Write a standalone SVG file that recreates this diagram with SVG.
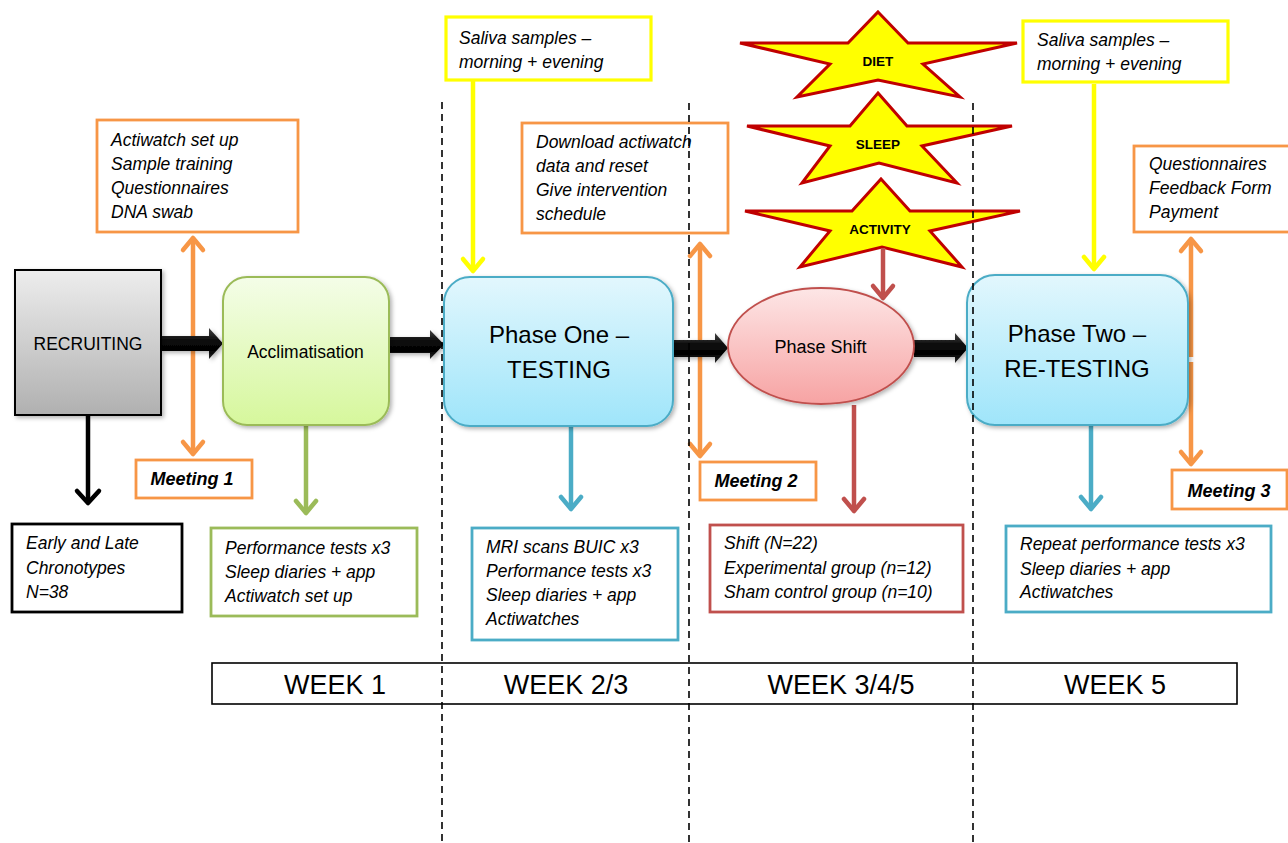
<svg xmlns="http://www.w3.org/2000/svg" width="1288" height="843" viewBox="0 0 1288 843">
<style>
.t{font-family:"Liberation Sans",Arial,sans-serif;font-size:17.5px;font-style:italic;fill:#000}
.m{font-family:"Liberation Sans",Arial,sans-serif;font-size:18px;font-style:italic;font-weight:bold;fill:#000;text-anchor:middle}
.c{font-family:"Liberation Sans",Arial,sans-serif;fill:#000;text-anchor:middle}
.s{font-family:"Liberation Sans",Arial,sans-serif;font-size:13.5px;font-weight:bold;fill:#000;text-anchor:middle}
.w{font-family:"Liberation Sans",Arial,sans-serif;font-size:27px;fill:#000;text-anchor:middle}
.box{fill:#fff;stroke-width:2.8}
.or{stroke:#F79646}.ye{stroke:#FFFF00;stroke-width:3.2}.gr{stroke:#9BBB59}.bl{stroke:#4BACC6}.rd{stroke:#C0504D}.bk{stroke:#000}
.ln{fill:none;stroke-width:4.5}
.star{fill:#FFFF00;stroke:#C00000;stroke-width:3;stroke-linejoin:miter}
.dash{stroke:#000;stroke-width:1.6;stroke-dasharray:7 5;fill:none}
.fat{fill:url(#gBlack)}
</style>
<defs>
<linearGradient id="gGray" x1="0" y1="0" x2="0" y2="1"><stop offset="0" stop-color="#ededed"/><stop offset="1" stop-color="#b0b0b0"/></linearGradient>
<linearGradient id="gGreen" x1="0" y1="0" x2="0" y2="1"><stop offset="0" stop-color="#f4fde8"/><stop offset="1" stop-color="#d6f79c"/></linearGradient>
<linearGradient id="gBlue" x1="0" y1="0" x2="0" y2="1"><stop offset="0" stop-color="#e2f7fd"/><stop offset="1" stop-color="#9fe5fa"/></linearGradient>
<linearGradient id="gPink" x1="0" y1="0" x2="0" y2="1"><stop offset="0" stop-color="#fde6e6"/><stop offset="1" stop-color="#f7a3a3"/></linearGradient>
<linearGradient id="gBlack" x1="0" y1="0" x2="0" y2="1"><stop offset="0" stop-color="#444"/><stop offset="0.35" stop-color="#111"/><stop offset="0.7" stop-color="#000"/><stop offset="1" stop-color="#2a2a2a"/></linearGradient>
<filter id="sh" x="-10%" y="-10%" width="130%" height="130%"><feDropShadow dx="2" dy="2" stdDeviation="2" flood-color="#000" flood-opacity="0.3"/></filter>
<marker id="aOr" viewBox="0 0 22 22" refX="18" refY="11" markerWidth="22" markerHeight="22" markerUnits="userSpaceOnUse" orient="auto-start-reverse" overflow="visible"><path d="M6,1 L18,11 L6,21" fill="none" stroke="#F79646" stroke-width="4.5" stroke-linecap="round" stroke-linejoin="round"/></marker>
<marker id="aYe" viewBox="0 0 22 22" refX="18" refY="11" markerWidth="22" markerHeight="22" markerUnits="userSpaceOnUse" orient="auto" overflow="visible"><path d="M6,1 L18,11 L6,21" fill="none" stroke="#FFFF00" stroke-width="4.5" stroke-linecap="round" stroke-linejoin="round"/></marker>
<marker id="aGr" viewBox="0 0 22 22" refX="18" refY="11" markerWidth="22" markerHeight="22" markerUnits="userSpaceOnUse" orient="auto" overflow="visible"><path d="M6,1 L18,11 L6,21" fill="none" stroke="#9BBB59" stroke-width="4.5" stroke-linecap="round" stroke-linejoin="round"/></marker>
<marker id="aBl" viewBox="0 0 22 22" refX="18" refY="11" markerWidth="22" markerHeight="22" markerUnits="userSpaceOnUse" orient="auto" overflow="visible"><path d="M6,1 L18,11 L6,21" fill="none" stroke="#4BACC6" stroke-width="4.5" stroke-linecap="round" stroke-linejoin="round"/></marker>
<marker id="aRd" viewBox="0 0 22 22" refX="18" refY="11" markerWidth="22" markerHeight="22" markerUnits="userSpaceOnUse" orient="auto" overflow="visible"><path d="M6,1 L18,11 L6,21" fill="none" stroke="#C0504D" stroke-width="4.5" stroke-linecap="round" stroke-linejoin="round"/></marker>
<marker id="aBk" viewBox="0 0 22 22" refX="18" refY="11" markerWidth="22" markerHeight="22" markerUnits="userSpaceOnUse" orient="auto" overflow="visible"><path d="M6,0 L18,11 L6,22" fill="none" stroke="#000" stroke-width="4.5" stroke-linecap="round" stroke-linejoin="round"/></marker>
</defs>
<rect width="1288" height="843" fill="#fff"/>

<g id="stars">
<g id="star-diet"><polygon class="star" points="878,12 908,43 1017,43 923,64 960,97 878,80 797,97 830,64 740,43 848,43"/><text class="s" x="878" y="66">DIET</text></g>
<g id="star-sleep"><polygon class="star" points="878,93 907,126 1012,126 922,146 957,183 879,163 802,183 830,146 747,126 850,126"/><text class="s" x="878" y="149">SLEEP</text></g>
<g id="star-activity"><polygon class="star" points="881,179 910,211 1020,211 930,231 962,267 882,247 800,267 830,231 745,211 852,211"/><text class="s" x="880" y="234">ACTIVITY</text></g>
</g>

<g id="connectors">
<line class="ln or" x1="193" y1="238" x2="193" y2="454" marker-start="url(#aOr)" marker-end="url(#aOr)"/>
<line class="ln or" x1="700" y1="244" x2="700" y2="456" marker-start="url(#aOr)" marker-end="url(#aOr)"/>
<line class="ln or" x1="1191" y1="239" x2="1191" y2="357" marker-start="url(#aOr)"/>
<line class="ln or" x1="1191" y1="362" x2="1191" y2="464" marker-end="url(#aOr)"/>
<line class="ln ye" x1="473" y1="81" x2="473" y2="271" marker-end="url(#aYe)"/>
<line class="ln ye" x1="1094" y1="84" x2="1094" y2="269" marker-end="url(#aYe)"/>
<line class="ln bk" x1="88" y1="416" x2="88" y2="503" marker-end="url(#aBk)"/>
<line class="ln gr" x1="306" y1="426" x2="306" y2="513" marker-end="url(#aGr)"/>
<line class="ln bl" x1="571" y1="427" x2="571" y2="509" marker-end="url(#aBl)"/>
<line class="ln bl" x1="1091" y1="426" x2="1091" y2="509" marker-end="url(#aBl)"/>
<line class="ln rd" x1="883" y1="248" x2="883" y2="298" marker-end="url(#aRd)"/>
<line class="ln rd" x1="854" y1="405" x2="854" y2="511" marker-end="url(#aRd)"/>
<g filter="url(#sh)">
<polygon class="fat" points="161,336 209,336 209,328 223,343.5 209,359 209,351 161,351"/>
<polygon class="fat" points="389,337 430,337 430,330 444,344.5 430,359 430,353 389,353"/>
<polygon class="fat" points="673,340 715,340 715,333 728,348 715,363 715,357 673,357"/>
<polygon class="fat" points="914,340 955,340 955,333 968,348 955,363 955,357 914,357"/>
</g>
</g>

<g id="recruiting"><rect x="15" y="270" width="146" height="145" fill="url(#gGray)" stroke="#000" stroke-width="2" filter="url(#sh)"/><text class="c" x="88" y="350" font-size="17.5">RECRUITING</text></g>
<g id="acclimatisation"><rect x="223" y="277" width="166" height="148" rx="24" fill="url(#gGreen)" stroke="#9BBB59" stroke-width="2" filter="url(#sh)"/><text class="c" x="305.5" y="358" font-size="17.5">Acclimatisation</text></g>
<g id="phase-one"><rect x="444" y="277" width="229" height="149" rx="26" fill="url(#gBlue)" stroke="#4BACC6" stroke-width="2" filter="url(#sh)"/><text class="c" x="559" y="343" font-size="24">Phase One –</text><text class="c" x="559" y="378" font-size="24">TESTING</text></g>
<g id="phase-shift"><ellipse cx="821" cy="346" rx="93" ry="58" fill="url(#gPink)" stroke="#C0504D" stroke-width="1.8" filter="url(#sh)"/><text class="c" x="820.5" y="353" font-size="18">Phase Shift</text></g>
<g id="phase-two"><rect x="967" y="275" width="221" height="150" rx="28" fill="url(#gBlue)" stroke="#4BACC6" stroke-width="2" filter="url(#sh)"/><text class="c" x="1077" y="342" font-size="24">Phase Two –</text><text class="c" x="1077" y="377" font-size="24">RE-TESTING</text></g>

<g id="setup-box"><rect class="box or" x="97" y="120" width="201" height="112"/><text class="t" x="111" y="146">Actiwatch set up</text><text class="t" x="111" y="170">Sample training</text><text class="t" x="111" y="194">Questionnaires</text><text class="t" x="111" y="218">DNA swab</text></g>
<g id="meeting-1"><rect class="box or" x="136" y="460" width="116" height="38"/><text class="m" x="192" y="485">Meeting 1</text></g>
<g id="chronotypes-box"><rect class="box bk" x="12" y="524" width="170" height="88"/><text class="t" x="26" y="549">Early and Late</text><text class="t" x="26" y="574">Chronotypes</text><text class="t" x="26" y="598">N=38</text></g>
<g id="acclim-box"><rect class="box gr" x="211" y="528" width="206" height="88"/><text class="t" x="225" y="554">Performance tests x3</text><text class="t" x="225" y="578">Sleep diaries + app</text><text class="t" x="225" y="602">Actiwatch set up</text></g>
<g id="saliva-1"><rect class="box ye" x="446" y="17" width="205" height="63"/><text class="t" x="459" y="44">Saliva samples –</text><text class="t" x="459" y="68">morning + evening</text></g>
<g id="download-box"><rect class="box or" x="522" y="123" width="206" height="110"/><text class="t" x="536" y="148">Download actiwatch</text><text class="t" x="536" y="172">data and reset</text><text class="t" x="536" y="196">Give intervention</text><text class="t" x="536" y="220">schedule</text></g>
<g id="testing-box"><rect class="box bl" x="472" y="528" width="206" height="112"/><text class="t" x="486" y="553">MRI scans BUIC x3</text><text class="t" x="486" y="577">Performance tests x3</text><text class="t" x="486" y="601">Sleep diaries + app</text><text class="t" x="486" y="625">Actiwatches</text></g>
<g id="meeting-2"><rect class="box or" x="700" y="462" width="116" height="38"/><text class="m" x="756" y="487">Meeting 2</text></g>
<g id="shift-box"><rect class="box rd" x="710" y="525" width="253" height="87"/><text class="t" x="724" y="549">Shift (N=22)</text><text class="t" x="724" y="574">Experimental group (n=12)</text><text class="t" x="724" y="598">Sham control group (n=10)</text></g>
<g id="saliva-2"><rect class="box ye" x="1023" y="21" width="205" height="61"/><text class="t" x="1037" y="46">Saliva samples –</text><text class="t" x="1037" y="70">morning + evening</text></g>
<g id="final-box"><rect class="box or" x="1134" y="146" width="160" height="86"/><text class="t" x="1149" y="170">Questionnaires</text><text class="t" x="1149" y="194">Feedback Form</text><text class="t" x="1149" y="218">Payment</text></g>
<g id="meeting-3"><rect class="box or" x="1172" y="470" width="115" height="39"/><text class="m" x="1229" y="497">Meeting 3</text></g>
<g id="retesting-box"><rect class="box bl" x="1006" y="526" width="265" height="86"/><text class="t" x="1020" y="550">Repeat performance tests x3</text><text class="t" x="1020" y="575">Sleep diaries + app</text><text class="t" x="1020" y="598">Actiwatches</text></g>

<g id="weeks"><rect x="212" y="663" width="1025" height="41" fill="#fff" stroke="#000" stroke-width="1.6"/>
<text class="w" x="335" y="694">WEEK 1</text><text class="w" x="566" y="694">WEEK 2/3</text><text class="w" x="841" y="694">WEEK 3/4/5</text><text class="w" x="1115" y="694">WEEK 5</text></g>

<g id="dividers">
<line class="dash" x1="442" y1="102" x2="442" y2="843"/>
<line class="dash" x1="689" y1="103" x2="689" y2="843"/>
<line class="dash" x1="973" y1="103" x2="973" y2="843"/>
</g>
</svg>
